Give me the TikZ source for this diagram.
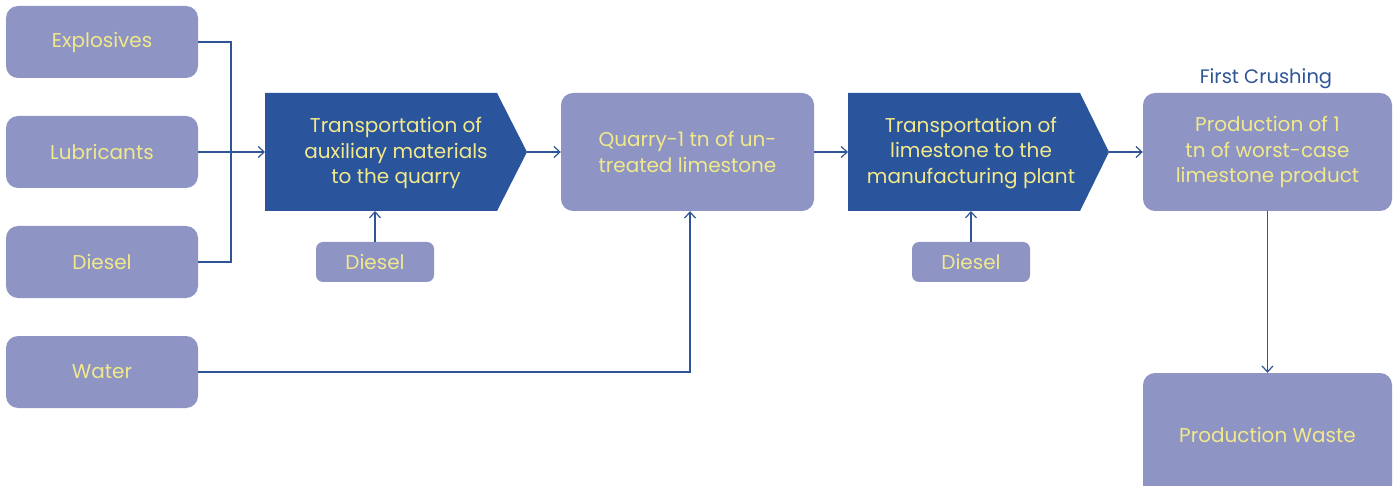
\documentclass[tikz,border=0pt]{standalone}
\usepackage{fontspec}
\setmainfont{Poppins}
\usetikzlibrary{arrows.meta}
\definecolor{boxfill}{HTML}{8E94C3}
\definecolor{chevfill}{HTML}{2A549C}
\definecolor{txtyellow}{HTML}{F2E98C}
\definecolor{linkblue}{HTML}{2F5597}
\tikzset{
 boxtext/.style={text=txtyellow, font=\fontsize{20}{25.5}\selectfont, align=center},
 inbox/.style={boxtext, fill=boxfill, rounded corners=12pt, minimum width=192pt, minimum height=72pt, inner sep=0pt},
 fuelbox/.style={inbox, rounded corners=7pt, minimum width=118pt, minimum height=40pt},
 procbox/.style={inbox, minimum height=118pt},
 link/.style={draw=linkblue, line width=1.2pt},
 >={Straight Barb[length=6pt,width=11pt]},
}
\begin{document}
\begin{tikzpicture}[x=1pt,y=-1pt]
 \useasboundingbox (0,0) rectangle (1397,486);
 \clip (0,0) rectangle (1397,486);
 % inputs on the left
 \node[inbox] (expl) at (102,42) {Explosives};
 \node[inbox] (lub) at (102,152) {Lubricants};
 \node[inbox] (dies) at (102,262) {Diesel};
 \node[inbox] (water) at (102,372) {Water};
 % transport chevrons
 \fill[chevfill] (265,93) -- (497,93) -- (527,152) -- (497,211) -- (265,211) -- cycle;
 \coordinate (chev1in) at (265,152); \coordinate (chev1out) at (527,152);
 \node[boxtext] (chev1) at (396,153) {Transportation of\\auxiliary materials\\to the quarry};
 \fill[chevfill] (848,93) -- (1080,93) -- (1109,152) -- (1080,211) -- (848,211) -- cycle;
 \coordinate (chev2in) at (848,152); \coordinate (chev2out) at (1109,152);
 \node[boxtext] (chev2) at (971,153) {Transportation of\\limestone to the\\manufacturing plant};
 % process boxes
 \node[procbox, minimum width=253pt] (quarry) at (687.5,152) {Quarry-1 tn of un-\\treated limestone};
 \node[procbox, minimum width=249pt] (prod) at (1267.5,152) {Production of 1\\tn of worst-case\\limestone product};
 \node[procbox, minimum width=249pt, minimum height=124pt] (waste) at (1267.5,435) {Production Waste};
 \node[text=linkblue, font=\fontsize{19.5}{22}\selectfont] (crush) at (1266,79) {First Crushing};
 % diesel for the transports
 \node[fuelbox] (dsl1) at (375,262) {Diesel};
 \node[fuelbox] (dsl2) at (971,262) {Diesel};
 % connectors
 \coordinate (bus) at (231,152);
 \draw[link] (expl.east) -| (bus) |- (dies.east);
 \draw[link,->] (lub.east) -- (chev1in);
 \draw[link,->] (water.east) -| ([xshift=2.5pt]quarry.south);
 \draw[link,->] (dsl1.north) -- (dsl1.north |- 0,211);
 \draw[link,->] (dsl2.north) -- (dsl2.north |- 0,211);
 \draw[link,->] (chev1out) -- (quarry.west);
 \draw[link,->] (quarry.east) -- (chev2in);
 \draw[link,->] (chev2out) -- (prod.west);
 \draw[link,->] (prod.south) -- (waste.north);
\end{tikzpicture}
\end{document}
